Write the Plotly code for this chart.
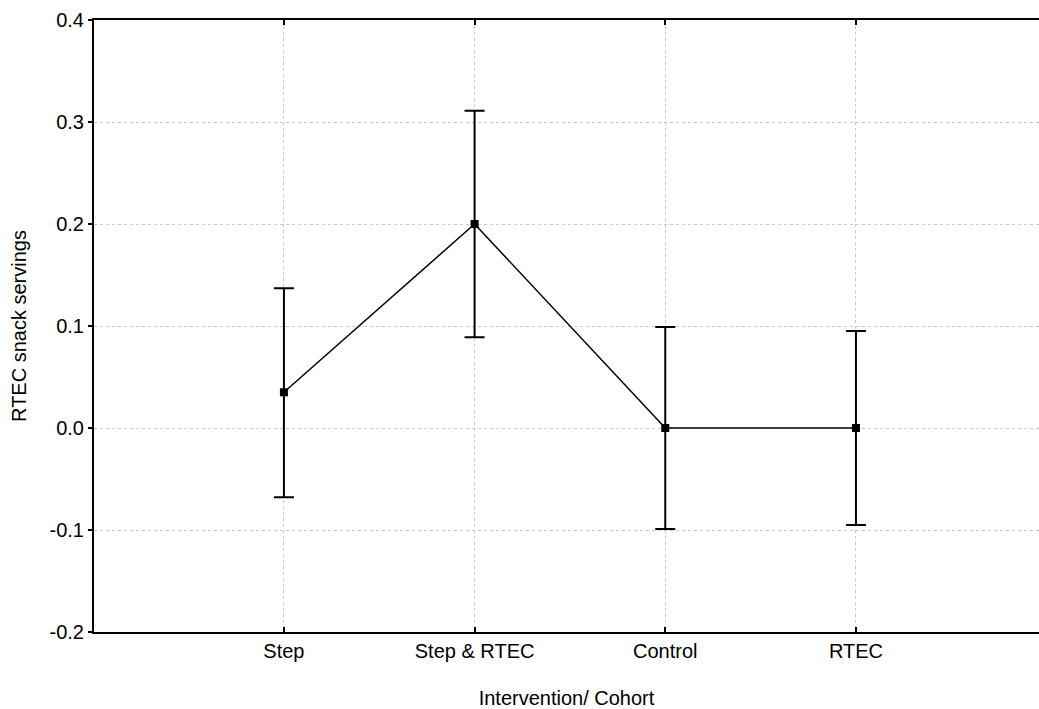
import plotly.graph_objects as go

categories = ["Step", "Step & RTEC", "Control", "RTEC"]
means = [0.035, 0.200, 0.000, 0.000]
upper = [0.137, 0.311, 0.099, 0.095]
lower = [-0.068, 0.089, -0.099, -0.095]
y_ticks = [-0.2, -0.1, 0.0, 0.1, 0.2, 0.3, 0.4]
y_tick_labels = ["-0.2", "-0.1", "0.0", "0.1", "0.2", "0.3", "0.4"]

err_plus = [u - m for u, m in zip(upper, means)]
err_minus = [m - l for m, l in zip(means, lower)]

font = "Liberation Sans, Arial, sans-serif"

fig = go.Figure()
fig.add_trace(go.Scatter(
    x=categories, y=means,
    mode="lines+markers",
    line=dict(color="black", width=1.5),
    marker=dict(symbol="square", size=8, color="black"),
    error_y=dict(type="data", symmetric=False, array=err_plus, arrayminus=err_minus,
                 color="black", thickness=2, width=10),
    showlegend=False,
))

fig.update_layout(
    width=1039, height=709,
    margin=dict(l=94, r=0, t=20, b=77, autoexpand=False),
    paper_bgcolor="white", plot_bgcolor="white",
    font=dict(family=font, size=20, color="black"),
)
fig.update_xaxes(
    type="category", range=[-0.996, 3.96],
    showline=True, linecolor="black", linewidth=2, mirror="ticks",
    ticks="inside", ticklen=5, tickwidth=2, tickcolor="black",
    showgrid=True, gridcolor="#c8c8c8", griddash="dot", gridwidth=1,
    title=dict(text="Intervention/ Cohort", standoff=30, font=dict(size=20)),
    tickfont=dict(size=20), zeroline=False, automargin=False,
)
fig.update_yaxes(
    range=[-0.2, 0.4], tickvals=y_ticks, ticktext=y_tick_labels,
    showline=True, linecolor="black", linewidth=2, mirror=False,
    ticks="outside", ticklen=4, tickwidth=1.5, tickcolor="black",
    showgrid=True, gridcolor="#c8c8c8", griddash="dot", gridwidth=1,
    title=dict(text="RTEC snack servings", standoff=18, font=dict(size=20)),
    tickfont=dict(size=20), zeroline=False, automargin=False,
)

fig.write_html(
    "out.html",
    config={"displayModeBar": False},
    post_script="document.body.style.margin='0';document.body.style.overflow='hidden';",
)
